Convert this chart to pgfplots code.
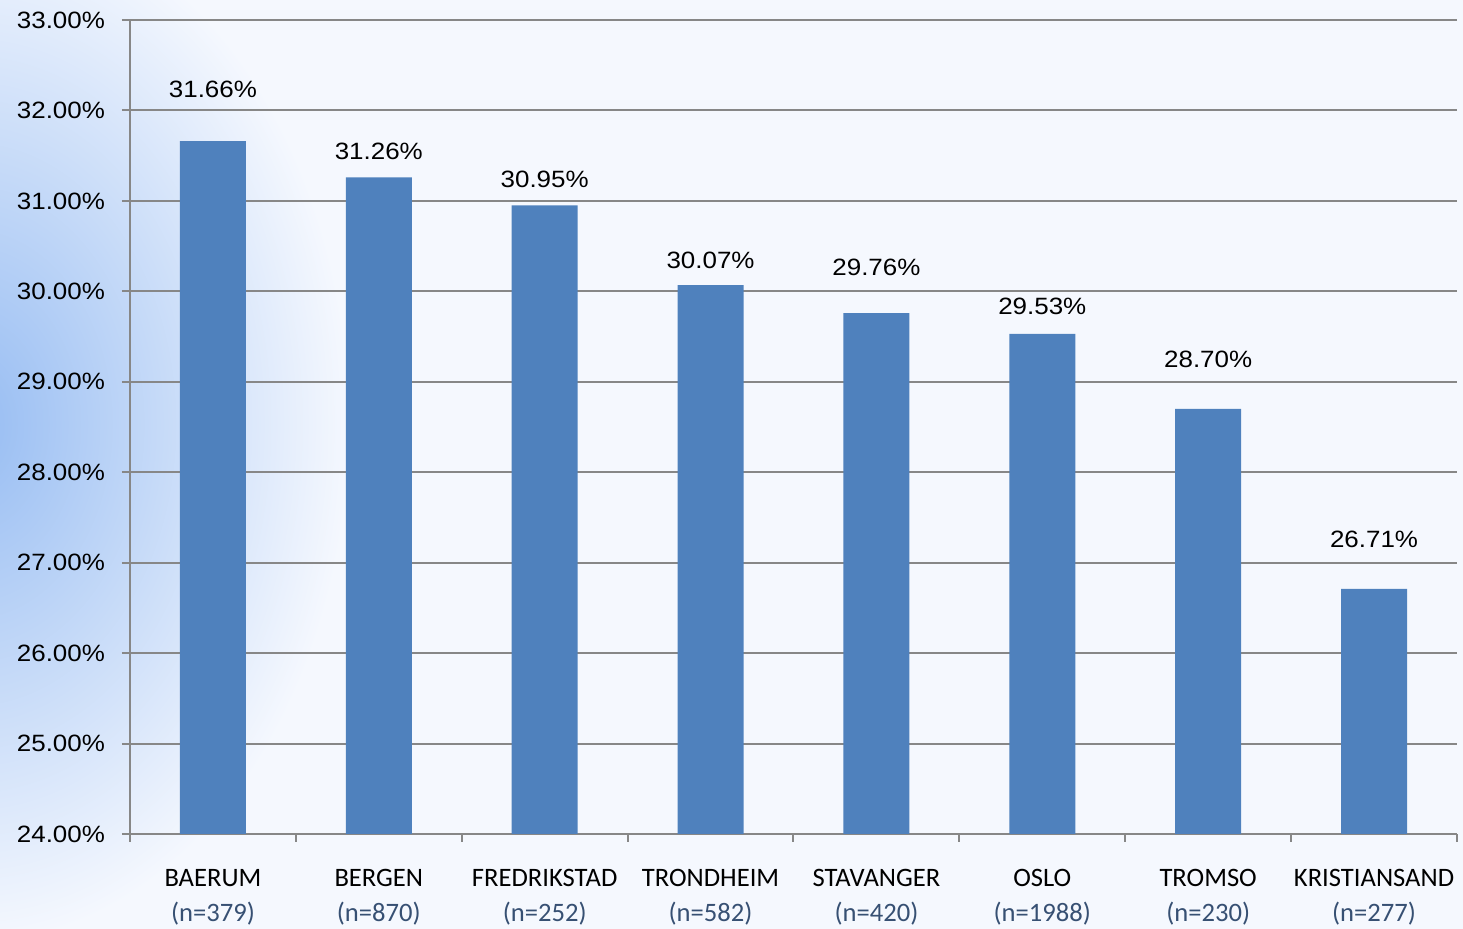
\documentclass[border=0pt]{standalone}
\usepackage{pgfplots}
\pgfplotsset{compat=1.18}
\usepackage{pgfplotstable}
\usepackage{fontspec}
\setmainfont{Liberation Sans}
\newfontfamily\valfont[FakeStretch=1.1]{Liberation Sans}
\newfontfamily\catfont{Carlito}
\definecolor{barblue}{HTML}{4F81BD}
\definecolor{ncol}{RGB}{55,80,115}
\definecolor{gridgray}{RGB}{135,135,135}
\definecolor{bgblue}{RGB}{150,188,242}
\definecolor{bglight}{RGB}{245,248,254}
\pgfplotstableread{
x y off
0 31.66 26
1 31.26 13
2 30.95 13
3 30.07 12.5
4 29.76 23
5 29.53 13.5
6 28.70 25
7 26.71 25
}\datatable
\begin{document}
\begin{tikzpicture}
\useasboundingbox (-65pt,-47.5pt) rectangle (666.5pt,417pt);
\begin{scope}
\clip (-65pt,-47.5pt) rectangle (666.5pt,417pt);
\fill[bglight] (-65pt,-47.5pt) rectangle (666.5pt,417pt);
\shade[inner color=bgblue, outer color=bglight] (-80pt,205pt) ellipse (190pt and 260pt);
\end{scope}
\begin{axis}[
  scale only axis,
  width=663.5pt, height=407pt,
  xmin=-0.5, xmax=7.5,
  ymin=24, ymax=33,
  ytick={24,25,...,33},
  xtick={0,1,...,7},
  minor xtick={-0.5,0.5,...,7.5},
  xticklabels={
    {BAERUM\\\textcolor{ncol}{(n=379)}},
    {BERGEN\\\textcolor{ncol}{(n=870)}},
    {FREDRIKSTAD\\\textcolor{ncol}{(n=252)}},
    {TRONDHEIM\\\textcolor{ncol}{(n=582)}},
    {STAVANGER\\\textcolor{ncol}{(n=420)}},
    {OSLO\\\textcolor{ncol}{(n=1988)}},
    {TROMSO\\\textcolor{ncol}{(n=230)}},
    {KRISTIANSAND\\\textcolor{ncol}{(n=277)}}},
  x tick label style={font=\catfont\fontsize{13.3}{17.5}\selectfont, align=center, anchor=north, yshift=-10pt},
  y tick label style={font=\valfont\fontsize{11.8}{13}\selectfont, anchor=east, xshift=-5pt},
  /pgf/number format/assume math mode=true,
  yticklabel={\pgfmathprintnumber[fixed,fixed zerofill,precision=2]{\tick}\%},
  axis x line*=bottom, axis y line*=left,
  axis line style={gridgray, line width=1pt, -},
  ymajorgrids, grid style={gridgray, line width=1pt},
  tick align=outside,
  major tick length=4pt, minor tick length=4pt,
  xtick style={draw=none},
  minor x tick style={draw=gridgray, line width=1pt},
  ytick style={draw=gridgray, line width=1pt},
]
\addplot[ybar, bar width=33pt, fill=barblue, draw=none,
  visualization depends on={\thisrow{off}\as\off},
  nodes near coords={\pgfmathprintnumber[fixed,fixed zerofill,precision=2]{\pgfplotspointmeta}\%},
  nodes near coords style={font=\valfont\fontsize{11.8}{13}\selectfont, anchor=center, yshift=\off pt, text=black}]
  table[x=x,y=y]{\datatable};
\end{axis}
\end{tikzpicture}
\end{document}
